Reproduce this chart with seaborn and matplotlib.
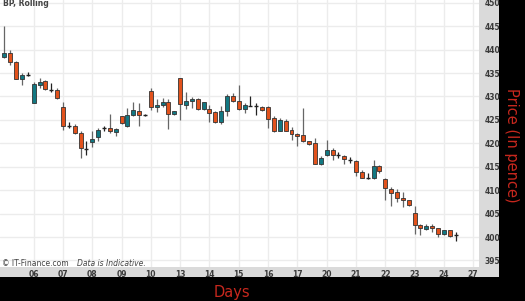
import numpy as np
import pandas as pd
import matplotlib
matplotlib.use("Agg")
import matplotlib.pyplot as plt
from matplotlib.patches import Rectangle
import seaborn as sns

# ---- data ----
opens = [438.5, 439.2, 437.4, 433.8, 434.5, 428.7, 432.5, 433.3, 431.4, 431.4,
         427.8, 423.8, 423.7, 422.3, 418.7, 420.2, 421.3, 423.3, 423.3, 422.4,
         425.8, 423.8, 426.0, 427.0, 426.0, 431.2, 427.7, 428.2, 428.9, 426.2,
         433.9, 428.2, 429.0, 429.4, 427.3, 427.3, 426.6, 424.5, 427.0, 430.2,
         429.1, 427.3, 428.0, 427.9, 427.7, 427.7, 425.5, 422.7, 424.8, 422.9,
         422.0, 421.7, 420.4, 420.1, 415.6, 417.5, 418.6, 417.5, 417.4, 416.5,
         416.3, 413.9, 412.6, 412.5, 415.1, 412.3, 410.3, 409.6, 408.4, 407.9,
         405.2, 402.5, 401.8, 402.4, 401.9, 400.7, 401.6, 400.4]
highs = [445.0, 439.9, 437.5, 435.0, 435.3, 433.2, 434.0, 433.5, 432.8, 431.8,
         428.9, 424.5, 424.1, 422.6, 420.4, 422.6, 423.3, 423.8, 426.2, 423.3,
         425.9, 427.5, 428.9, 428.7, 426.2, 431.8, 429.5, 429.7, 429.5, 427.0,
         434.0, 430.9, 429.9, 429.7, 428.9, 428.2, 426.8, 427.9, 430.6, 430.7,
         432.5, 428.6, 430.1, 428.6, 427.9, 427.9, 425.8, 425.4, 425.1, 423.4,
         422.2, 427.5, 420.6, 421.1, 417.2, 420.7, 418.9, 418.1, 417.5, 417.0,
         416.5, 414.4, 413.7, 416.5, 415.3, 412.6, 410.6, 410.3, 409.7, 408.0,
         406.6, 402.7, 402.7, 402.8, 402.0, 401.6, 401.6, 401.1]
lows = [438.3, 436.7, 433.7, 432.4, 434.3, 428.6, 431.8, 431.4, 430.9, 429.4,
        422.9, 423.3, 422.0, 416.9, 417.6, 419.2, 420.6, 422.7, 422.2, 421.5,
        424.2, 423.4, 425.8, 423.6, 425.8, 427.2, 426.6, 427.7, 423.1, 426.1,
        425.0, 427.3, 427.5, 427.2, 427.2, 424.5, 424.3, 424.1, 425.8, 428.9,
        427.2, 426.5, 427.9, 426.1, 427.0, 423.3, 422.4, 422.6, 422.6, 420.8,
        419.4, 420.3, 419.6, 415.5, 415.3, 417.2, 416.5, 416.9, 415.5, 415.9,
        413.0, 412.5, 412.3, 412.3, 413.7, 408.0, 406.7, 407.5, 406.5, 406.6,
        400.6, 400.4, 401.4, 401.1, 400.0, 400.4, 400.1, 399.2]
closes = [439.2, 437.4, 433.8, 434.5, 434.5, 432.6, 433.2, 431.5, 431.4, 429.7,
          423.8, 423.8, 422.3, 418.9, 418.7, 421.0, 422.9, 423.3, 422.6, 423.0,
          424.3, 426.0, 427.2, 426.0, 426.0, 427.7, 428.2, 428.8, 426.2, 426.8,
          428.4, 429.0, 429.5, 427.3, 428.8, 426.5, 424.5, 427.0, 430.2, 429.1,
          427.3, 428.1, 428.0, 427.9, 427.2, 425.3, 422.7, 425.0, 422.7, 421.9,
          421.6, 420.4, 419.9, 415.6, 416.8, 418.5, 417.6, 417.5, 416.6, 416.5,
          413.9, 412.6, 412.6, 415.1, 414.1, 410.5, 409.4, 408.4, 407.9, 406.8,
          402.5, 402.0, 402.4, 401.9, 400.7, 401.4, 400.2, 400.4]
day_labels = ["06", "07", "08", "09", "10", "13", "14", "15", "16", "17",
              "20", "21", "22", "23", "24", "27"]
bars_per_day = 5
first_bar = -5

df = pd.DataFrame({"open": opens, "high": highs, "low": lows, "close": closes})
df["x"] = np.arange(len(df)) + first_bar

UP = "#127882"
DOWN = "#e2521c"
GRID = "#ececec"

sns.set_theme(style="white")
plt.rcParams["font.family"] = ["DejaVu Sans"]

W, H = 525, 301
fig = plt.figure(figsize=(W / 100, H / 100), dpi=100, facecolor="black")
bg = fig.add_axes([0, 1 - 277 / H, 499 / W, 277 / H], zorder=-5)
bg.set_facecolor("#dadada")
bg.set_xticks([]); bg.set_yticks([])
for s in bg.spines.values():
    s.set_visible(False)

ax = fig.add_axes([0, 1 - 267 / H, 479 / W, 267 / H], zorder=1)
ax.set_facecolor("white")

# grid
yt = np.arange(395, 451, 5)
xt = np.arange(len(day_labels)) * bars_per_day
for y in yt:
    ax.axhline(y, color=GRID, lw=1.0, zorder=0)
for x in xt:
    ax.axvline(x, color=GRID, lw=1.0, zorder=0)

bw = 0.68
for _, r in df.iterrows():
    o, h, l, c, x = r["open"], r["high"], r["low"], r["close"], r["x"]
    if abs(c - o) < 0.05:
        ax.vlines(x, l, h, color="#222222", lw=0.9, zorder=2)
        ax.hlines(o, x - bw / 2, x + bw / 2, color="#222222", lw=1.0, zorder=3)
    else:
        ax.vlines(x, l, h, color="#666666", lw=0.9, zorder=2)
        col = UP if c > o else DOWN
        ax.add_patch(Rectangle((x - bw / 2, min(o, c)), bw, abs(c - o),
                               facecolor=col, edgecolor="#333333", lw=0.6, zorder=3))

ax.set_xlim(-5.75, 76.0)
ax.set_ylim(393.6, 450.6)
ax.set_xticks(xt)
ax.set_xticklabels(day_labels)
ax.set_yticks(yt)
ax.yaxis.tick_right()
ax.tick_params(axis="both", length=0, labelsize=5.5, labelcolor="#3a3a3a")
ax.tick_params(axis="y", pad=4)
ax.tick_params(axis="x", pad=2)
for lab in ax.get_xticklabels() + ax.get_yticklabels():
    lab.set_fontweight("bold")
for s in ax.spines.values():
    s.set_visible(False)

ax.text(3 / 479, 1 - 4 / 267, "BP, Rolling", transform=ax.transAxes,
        fontsize=5.5, fontweight="bold", color="#444444", va="center", ha="left")
ax.text(2 / 479, 4 / 267, "© IT-Finance.com", transform=ax.transAxes,
        fontsize=5.5, color="#444444", va="center", ha="left")
ax.text(77 / 479, 4 / 267, "Data is Indicative.", transform=ax.transAxes,
        fontsize=5.5, color="#444444", va="center", ha="left", style="italic")

fig.text(511 / W, 1 - 145 / H, "Price (In pence)", rotation=270, color="#c8281e",
         fontsize=10.5, ha="center", va="center")
fig.text(232 / W, 1 - 292 / H, "Days", color="#c8281e", fontsize=10.5,
         ha="center", va="center")

fig.savefig("out.png", dpi=100, facecolor="black")
